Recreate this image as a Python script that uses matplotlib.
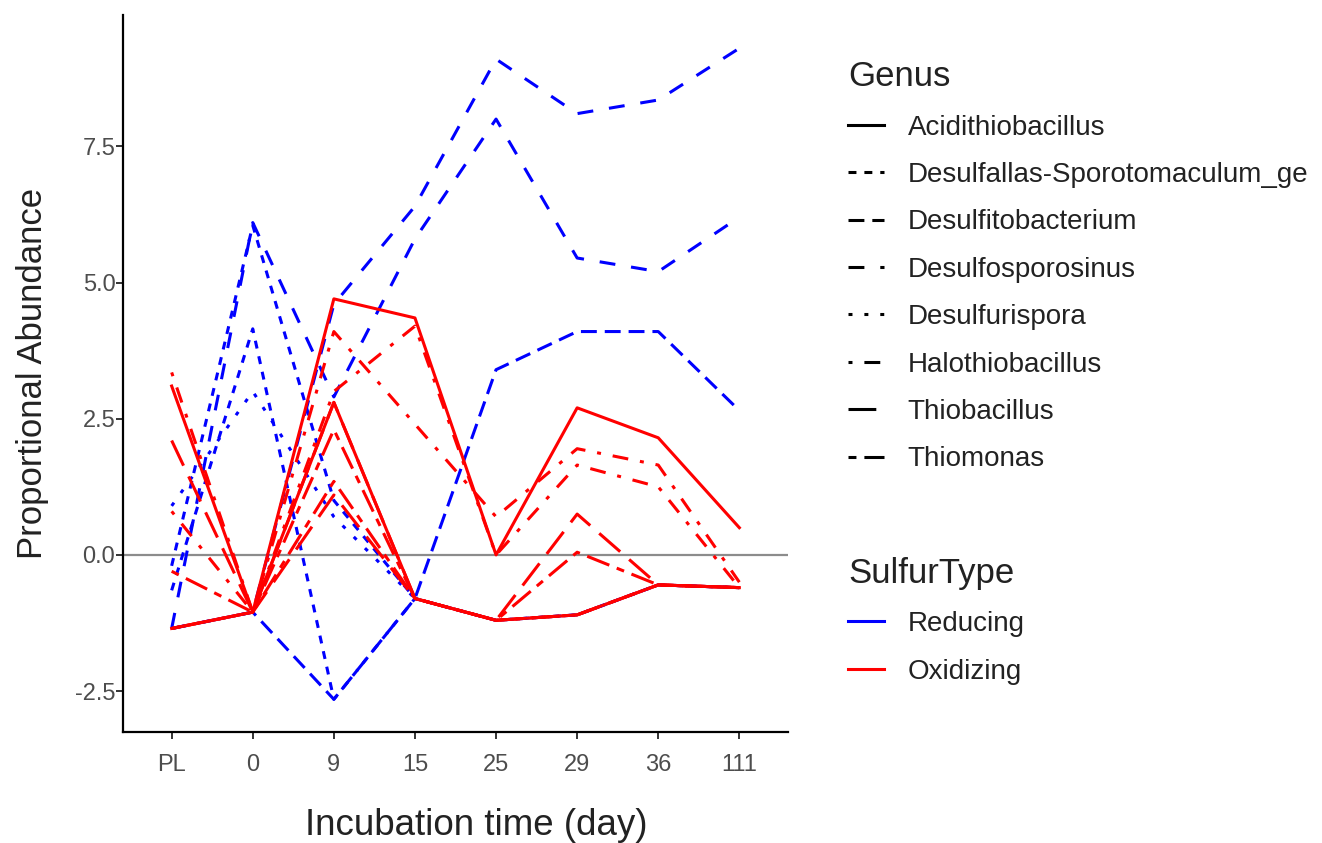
import matplotlib
matplotlib.use("Agg")
import matplotlib.pyplot as plt
from matplotlib.lines import Line2D

plt.rcParams['font.family'] = ['Liberation Sans', 'DejaVu Sans']

# ---------------- data ----------------
days = ["PL", "0", "9", "15", "25", "29", "36", "111"]
genera = ["Acidithiobacillus", "Desulfallas-Sporotomaculum_ge", "Desulfitobacterium",
          "Desulfosporosinus", "Desulfurispora", "Halothiobacillus", "Thiobacillus", "Thiomonas"]
sulfur_types = ["Reducing", "Oxidizing"]

# reducing-type series
red_s1 = [-1.35, -1.05, 4.6, 6.4, 9.1, 8.1, 8.35, 9.3]
red_s2 = [-1.35, 6.1, 2.9, 5.8, 8.0, 5.45, 5.2, 6.2]
red_s3 = [-1.35, -1.05, -2.65, -0.8, 3.4, 4.1, 4.1, 2.65]
red_s4 = [-0.65, 4.15, -2.65, -0.8, -1.2, -1.1, -0.55, -0.6]
red_s5 = [-0.2, 6.05, 1.0, -0.8, -1.2, -1.1, -0.55, -0.6]
red_s6 = [0.9, 3.0, 0.7, -0.8, -1.2, -1.1, -0.55, -0.6]
reducing_series = [red_s1, red_s2, red_s3, red_s4, red_s5, red_s6]
reducing_genus = ["Desulfosporosinus", "Desulfosporosinus", "Desulfitobacterium",
                  "Desulfallas-Sporotomaculum_ge", "Desulfallas-Sporotomaculum_ge", "Desulfurispora"]

# oxidizing-type series
ox_s1 = [-1.35, -1.05, 4.7, 4.35, 0.0, 2.7, 2.15, 0.5]
ox_s2 = [3.1, -1.05, 2.8, -0.8, -1.2, -1.1, -0.55, -0.6]
ox_s3 = [3.35, -1.05, 4.1, 2.4, 0.7, 1.95, 1.65, -0.5]
ox_s4 = [0.8, -1.05, 3.0, 4.2, 0.0, 1.65, 1.25, -0.6]
ox_s5 = [2.1, -1.05, 2.8, -0.8, -1.2, 0.75, -0.55, -0.6]
ox_s6 = [-0.3, -1.05, 1.35, -0.8, -1.2, 0.05, -0.55, -0.6]
ox_s7 = [-1.35, -1.05, 2.3, -0.8, -1.2, -1.1, -0.55, -0.6]
ox_s8 = [-1.35, -1.05, 1.1, -0.8, -1.2, -1.1, -0.55, -0.6]
oxidizing_series = [ox_s1, ox_s2, ox_s3, ox_s4, ox_s5, ox_s6, ox_s7, ox_s8]
oxidizing_genus = ["Acidithiobacillus", "Acidithiobacillus", "Halothiobacillus", "Halothiobacillus",
                   "Thiobacillus", "Thiomonas", "Thiomonas", "Thiobacillus"]

# ---------------- styles ----------------
k = 1.3
base_dash = {
    "Acidithiobacillus": None,
    "Desulfallas-Sporotomaculum_ge": (2, 2),
    "Desulfitobacterium": (4, 2),
    "Desulfosporosinus": (4, 4),
    "Desulfurispora": (1, 3),
    "Halothiobacillus": (1, 3, 4, 3),
    "Thiobacillus": (7, 3),
    "Thiomonas": (2, 2, 6, 2),
}

def ls_for(g):
    d = base_dash[g]
    if d is None:
        return "-"
    return (0, tuple(v * k for v in d))

type_color = {"Reducing": "#0000FF", "Oxidizing": "#FF0000"}
LW = 2.2

fig = plt.figure(figsize=(13.22, 8.43), dpi=100)
ax = fig.add_axes([0.09304, 0.13167, 0.50303, 0.85053])

x = list(range(len(days)))
ax.axhline(0, color="#8c8c8c", lw=1.6, zorder=1)

for vals, g in zip(reducing_series, reducing_genus):
    ax.plot(x, vals, color=type_color["Reducing"], lw=LW, linestyle=ls_for(g), zorder=2)
for vals, g in zip(oxidizing_series, oxidizing_genus):
    ax.plot(x, vals, color=type_color["Oxidizing"], lw=LW, linestyle=ls_for(g), zorder=3)

ax.set_xlim(-0.6, len(days) - 0.4)
ax.set_ylim(-3.25, 9.91)
ax.set_xticks(x)
ax.set_xticklabels(days)
ax.set_yticks([-2.5, 0.0, 2.5, 5.0, 7.5])
ax.set_yticklabels(["-2.5", "0.0", "2.5", "5.0", "7.5"])

for s in ["top", "right"]:
    ax.spines[s].set_visible(False)
for s in ["left", "bottom"]:
    ax.spines[s].set_linewidth(1.6)
    ax.spines[s].set_color("black")
ax.tick_params(axis="both", length=5, width=1.4, color="#333333",
               labelsize=17, labelcolor="#4D4D4D")
ax.tick_params(axis="x", pad=11)
ax.tick_params(axis="y", pad=0.5)

ax.set_xlabel("Incubation time (day)", fontsize=26.5, color="#222222")
ax.xaxis.set_label_coords(0.531, -0.106)
ax.set_ylabel("Proportional Abundance", fontsize=25, color="#222222")
ax.yaxis.set_label_coords(-0.111, 0.5)

# ---------------- legends ----------------
genus_handles = [Line2D([0], [0], color="black", lw=LW, linestyle=ls_for(g)) for g in genera]
leg1 = fig.legend(genus_handles, genera, loc="upper left", bbox_to_anchor=(0.631, 0.945),
                  frameon=False, fontsize=20, title="Genus", title_fontsize=25,
                  handlelength=1.3, handletextpad=0.85, labelspacing=0.77, borderpad=0,
                  alignment="left")
type_handles = [Line2D([0], [0], color=type_color[t], lw=LW) for t in sulfur_types]
leg2 = fig.legend(type_handles, sulfur_types, loc="upper left", bbox_to_anchor=(0.631, 0.356),
                  frameon=False, fontsize=20, title="SulfurType", title_fontsize=25,
                  handlelength=1.3, handletextpad=0.85, labelspacing=0.77, borderpad=0,
                  alignment="left")
for lg in (leg1, leg2):
    lg.get_title().set_color("#222222")
    for t in lg.get_texts():
        t.set_color("#222222")

fig.savefig("out.png", dpi=100)
